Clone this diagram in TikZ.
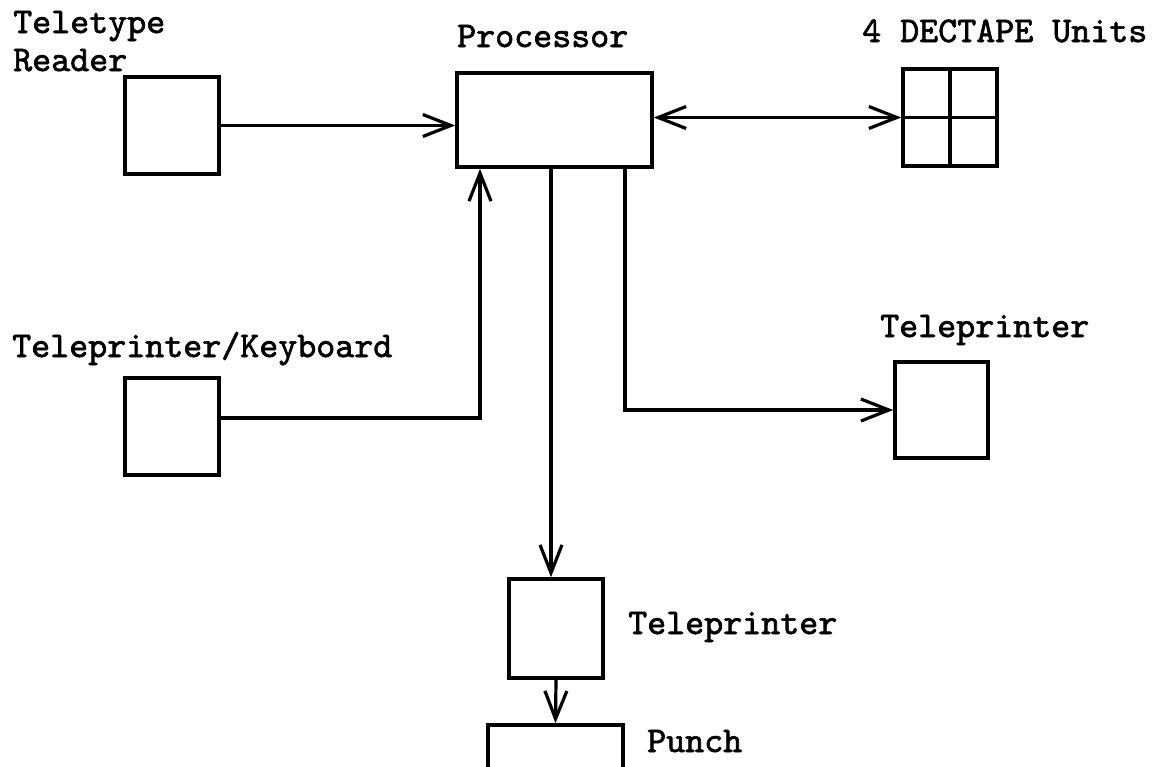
\documentclass[tikz,border=0pt]{standalone}
\usepackage{fontspec}
\newfontfamily\courfont[FakeBold=1.8]{lmmono10-regular.otf}
\usetikzlibrary{arrows.meta}
\begin{document}
\begin{tikzpicture}[x=1pt,y=-1pt,
  unit/.style={draw,line width=3.5pt,inner sep=0pt,minimum width=#1},
  conn/.style={line width=3.2pt,line join=miter},
  arr/.style={conn,-{Straight Barb[length=28pt,width=22pt,line width=3.2pt]}},
  darr/.style={conn,{Straight Barb[length=28pt,width=22pt,line width=3.2pt]}-{Straight Barb[length=28pt,width=22pt,line width=3.2pt]}},
  lbl/.style={anchor=base west,inner sep=0pt,font=\fontsize{36.2}{40}\selectfont\courfont}]
\useasboundingbox (0,0) rectangle (1154,766);
% boxes
\node[unit=94pt,minimum height=97pt] (reader) at (172,125.5) {};
\node[unit=195pt,minimum height=94pt] (proc) at (554.5,120) {};
\node[unit=94pt,minimum height=97pt] (dec) at (950,117.5) {};
\draw[conn] (dec.north) -- (dec.south);
\draw[conn] (dec.west) -- (dec.east);
\node[unit=94pt,minimum height=97pt] (kbd) at (172,426.5) {};
\node[unit=93pt,minimum height=96pt] (tpr) at (941.5,410) {};
\node[unit=94pt,minimum height=99pt] (tpb) at (556,628.5) {};
\node[unit=135pt,minimum height=70pt] (punch) at (555.5,760) {};
% labels
\node[lbl] (lreader1) at (13,33) {Teletype};
\node[lbl] (lreader2) at (13,71) {Reader};
\node[lbl] (lproc) at (457,47) {Processor};
\node[lbl] (ldec) at (862,42) {4 DECTAPE Units};
\node[lbl] (lkbd) at (12,357) {Teleprinter/Keyboard};
\node[lbl] (ltpr) at (880,337) {Teleprinter};
\node[lbl] (ltpb) at (628,634) {Teleprinter};
\node[lbl] (lpunch) at (647,752) {Punch};
% connectors
\draw[arr] (reader.east) -- (reader.east -| proc.west);
\draw[darr] (dec.west -| proc.east) -- (dec.west);
\coordinate (kj) at (480,418);
\draw[arr] (kj -| kbd.east) -- (kj) -- (kj |- proc.south);
\coordinate (tj) at (625,410);
\draw[arr] (tj |- proc.south) -- (tj) -- (tj -| tpr.west);
\coordinate (bj) at (551,300);
\draw[arr] (bj |- proc.south) -- (bj |- tpb.north);
\draw[arr] (tpb.south) -- (punch.north);
\end{tikzpicture}
\end{document}
